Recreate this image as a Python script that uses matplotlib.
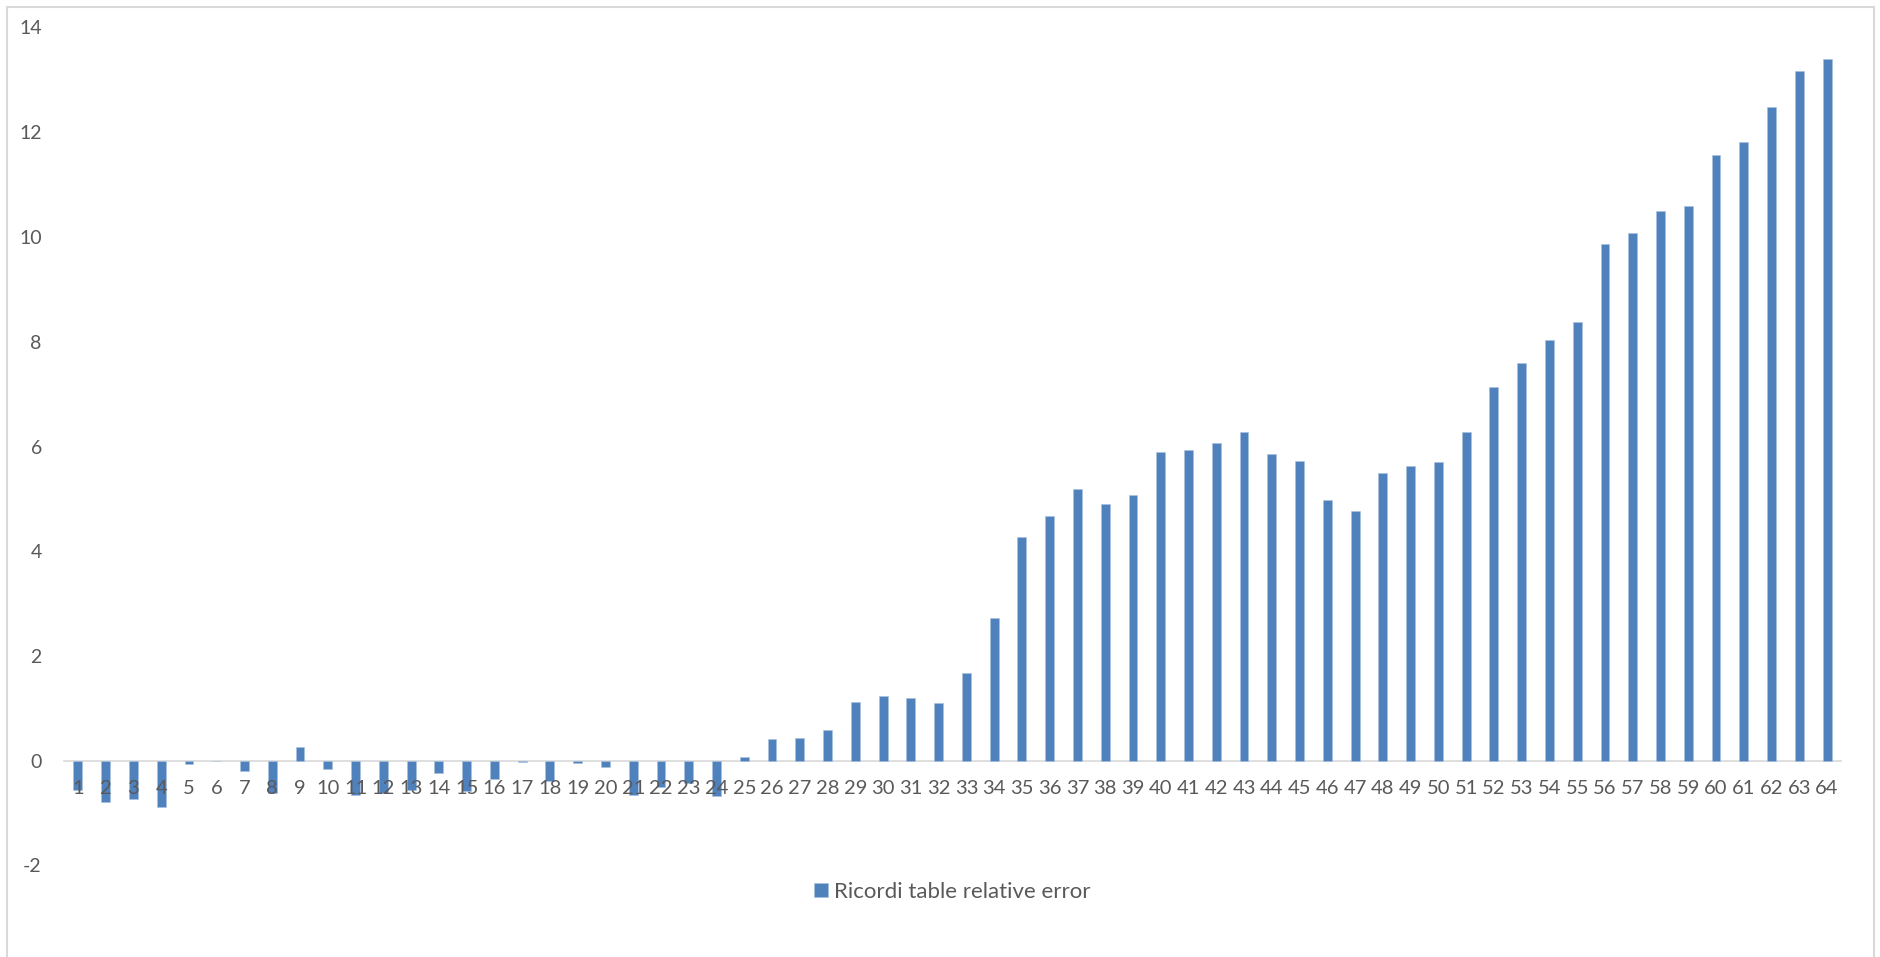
import matplotlib
matplotlib.use("Agg")
import matplotlib.pyplot as plt
from matplotlib.patches import Rectangle

# Series data
categories = [str(i) for i in range(1, 65)]
relative_error = [
    -0.56, -0.79, -0.73, -0.88, -0.06, 0.00, -0.19, -0.61, 0.26, -0.15,
    -0.65, -0.62, -0.55, -0.24, -0.57, -0.34, -0.02, -0.38, -0.04, -0.11,
    -0.65, -0.50, -0.43, -0.67, 0.08, 0.41, 0.43, 0.59, 1.12, 1.23,
    1.20, 1.11, 1.68, 2.73, 4.28, 4.67, 5.19, 4.90, 5.08, 5.90,
    5.93, 6.06, 6.27, 5.85, 5.73, 4.97, 4.76, 5.50, 5.63, 5.71,
    6.27, 7.14, 7.60, 8.03, 8.38, 9.87, 10.08, 10.50, 10.59, 11.57,
    11.81, 12.48, 13.16, 13.39,
]
y_ticks = [-2, 0, 2, 4, 6, 8, 10, 12, 14]
series_name = "Ricordi table relative error"

W, H = 1880, 957
BAR = "#4f81bd"
TXT = "#595959"
GRID = "#d9d9d9"

plt.rcParams["font.family"] = ["Lato", "DejaVu Sans"]

fig = plt.figure(figsize=(W / 100, H / 100), dpi=100)
fig.patch.set_facecolor("white")

# chart-area border
fig.add_artist(Rectangle((7 / W, -0.05), (1874 - 7) / W, 1.05 - 7 / H,
                         transform=fig.transFigure, fill=False,
                         edgecolor=GRID, linewidth=1.5))

left, right = 64, 1841
top_px, bot_px = 27.5, 865.5
ax = fig.add_axes([left / W, 1 - bot_px / H, (right - left) / W, (bot_px - top_px) / H])
ax.set_facecolor("none")

x = list(range(len(categories)))
ax.bar(x, relative_error, width=0.32, color=BAR, edgecolor="#a9c2e0",
       linewidth=0.4, zorder=2, label=series_name)

ax.set_xlim(-0.5, len(categories) - 0.5)
ax.set_ylim(-2, 14)
ax.set_yticks(y_ticks)
ax.set_yticklabels([str(v) for v in y_ticks])
ax.set_xticks(x)
ax.set_xticklabels(categories)

for s in ("left", "right", "top"):
    ax.spines[s].set_visible(False)
ax.spines["bottom"].set_position(("data", 0))
ax.spines["bottom"].set_color(GRID)
ax.spines["bottom"].set_linewidth(1.2)
ax.spines["bottom"].set_zorder(1)

# category labels sit on top of the negative bars
ax.xaxis.set_zorder(3)
ax.yaxis.set_zorder(3)

ax.tick_params(axis="y", length=0, pad=16, labelsize=14, labelcolor=TXT)
ax.tick_params(axis="x", length=0, pad=14, labelsize=14.5, labelcolor=TXT)

fig.legend(loc="center", bbox_to_anchor=(952.5 / W, 1 - 892 / H),
           frameon=False, fontsize=16, labelcolor=TXT,
           handlelength=0.62, handleheight=0.62, handletextpad=0.3)

fig.savefig("out.png", dpi=100, facecolor="white")
